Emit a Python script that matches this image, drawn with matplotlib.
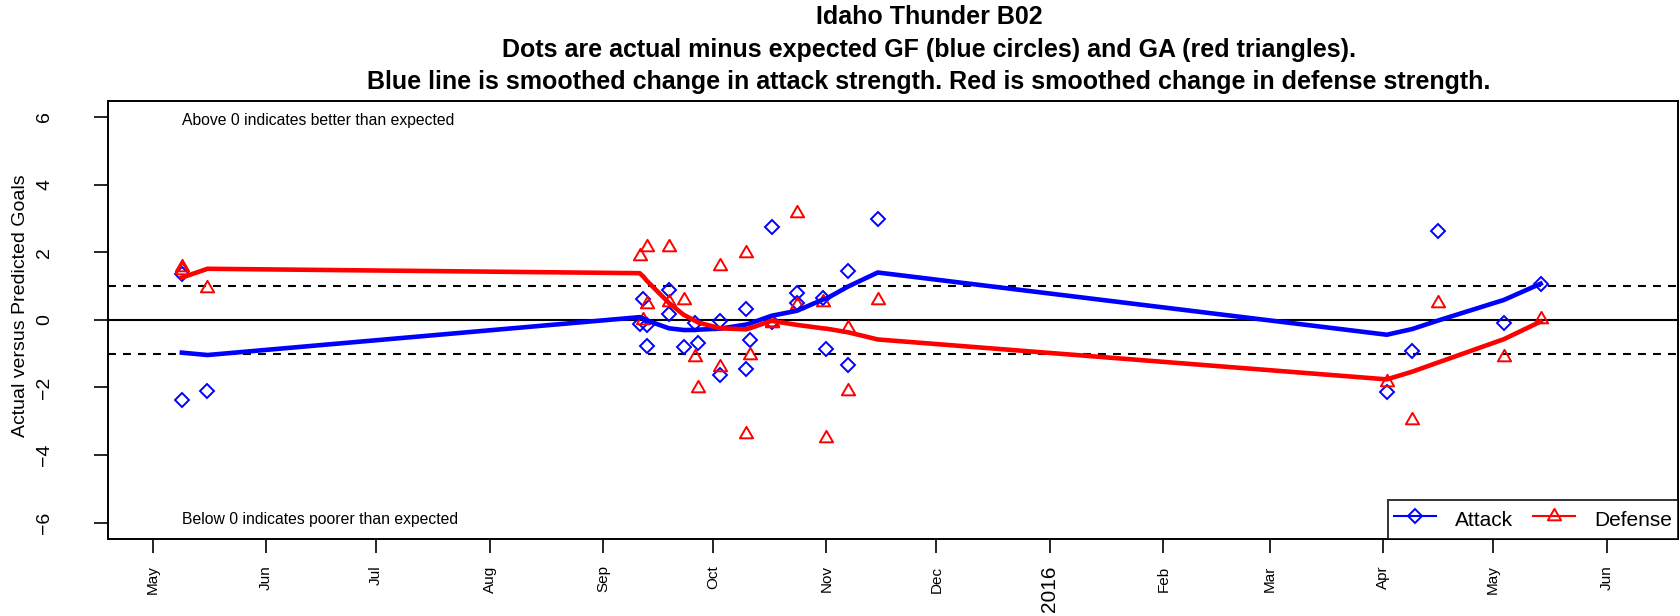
import matplotlib
matplotlib.use("Agg")
import matplotlib.pyplot as plt
import matplotlib.dates as mdates
from matplotlib.path import Path
from matplotlib.lines import Line2D
from datetime import datetime

plt.rcParams['font.family'] = ['Liberation Sans', 'DejaVu Sans']


#DATA

# one entry per game: actual minus expected goals for (blue) and against (red)
game_dates = ["2015-05-09", "2015-05-09", "2015-05-16",
              "2015-09-11", "2015-09-12", "2015-09-13", "2015-09-13",
              "2015-09-19", "2015-09-19", "2015-09-23", "2015-09-26", "2015-09-27",
              "2015-10-03", "2015-10-03", "2015-10-10", "2015-10-10", "2015-10-11",
              "2015-10-17", "2015-10-17", "2015-10-24", "2015-10-24", "2015-10-31",
              "2015-11-01", "2015-11-07", "2015-11-07", "2015-11-15",
              "2016-04-02", "2016-04-09", "2016-04-16", "2016-05-04", "2016-05-14"]
gf_diff = [1.35, -2.37, -2.09,
           -0.12, 0.62, -0.15, -0.77,
           0.89, 0.18, -0.79, -0.08, -0.67,
           -0.03, -1.63, 0.32, -1.45, -0.60,
           2.74, -0.05, 0.79, 0.51, 0.64,
           -0.87, 1.43, -1.33, 2.98,
           -2.12, -0.92, 2.64, -0.08, 1.07]
ga_diff = [1.55, 1.48, 0.93,
           1.89, -0.01, 2.15, 0.48,
           2.15, 0.52, 0.58, -1.10, -2.02,
           1.59, -1.39, 1.98, -3.39, -1.03,
           -0.05, -0.10, 3.17, 0.43, 0.54,
           -3.48, -0.23, -2.10, 0.60,
           -1.85, -2.97, 0.51, -1.11, 0.03]

# smoothed change in strength at each distinct game date
smooth_dates = ["2015-05-09", "2015-05-16", "2015-09-11", "2015-09-12", "2015-09-13",
                "2015-09-19", "2015-09-23", "2015-09-26", "2015-09-27", "2015-10-03",
                "2015-10-10", "2015-10-11", "2015-10-17", "2015-10-24", "2015-10-31",
                "2015-11-01", "2015-11-07", "2015-11-15", "2016-04-02", "2016-04-09",
                "2016-04-16", "2016-05-04", "2016-05-14"]
attack_smooth = [-0.97, -1.04, 0.08, 0.04, -0.02,
                 -0.25, -0.30, -0.30, -0.29, -0.26,
                 -0.14, -0.11, 0.12, 0.27, 0.60,
                 0.63, 0.99, 1.40, -0.44, -0.27,
                 -0.02, 0.59, 1.07]
defense_smooth = [1.25, 1.51, 1.38, 1.28, 1.15,
                  0.50, 0.15, -0.02, -0.08, -0.25,
                  -0.28, -0.25, -0.03, -0.15, -0.25,
                  -0.26, -0.37, -0.58, -1.76, -1.53,
                  -1.26, -0.57, -0.05]

month_ticks = ["2015-05-01", "2015-06-01", "2015-07-01", "2015-08-01", "2015-09-01",
               "2015-10-01", "2015-11-01", "2015-12-01", "2016-01-01", "2016-02-01",
               "2016-03-01", "2016-04-01", "2016-05-01", "2016-06-01"]
month_labels = ["May", "Jun", "Jul", "Aug", "Sep", "Oct", "Nov", "Dec",
                "2016", "Feb", "Mar", "Apr", "May", "Jun"]
y_ticks = [-6, -4, -2, 0, 2, 4, 6]


def to_dates(lst):
    return [datetime.strptime(s, "%Y-%m-%d") for s in lst]


gd = to_dates(game_dates)
sd = to_dates(smooth_dates)

# R style triangle (pch=2), centred on its centroid
tri = Path([(0, 1.5551), (1.3468, -0.7776), (-1.3468, -0.7776), (0, 1.5551)],
           [Path.MOVETO, Path.LINETO, Path.LINETO, Path.CLOSEPOLY])


#DRAW

fig = plt.figure(figsize=(16.8, 6.16), dpi=100)
ax = fig.add_axes([108.3 / 1680, 1 - 539 / 616, (1678 - 108.3) / 1680, (539 - 100.7) / 616])

ax.axhline(0, color='black', lw=1.5, zorder=1)
ax.axhline(1, color='black', lw=1.5, dashes=(3.8, 3.4), zorder=1)
ax.axhline(-1, color='black', lw=1.5, dashes=(3.8, 3.4), zorder=1)

ax.plot(gd, gf_diff, ls='none', marker='D', ms=7.5, mfc='none', mec='blue', mew=1.4, zorder=2)
ax.plot(gd, ga_diff, ls='none', marker=tri, ms=11, mfc='none', mec='red', mew=1.4, zorder=2)
ax.plot(sd, attack_smooth, color='blue', lw=3.3, zorder=3)
ax.plot(sd, defense_smooth, color='red', lw=3.3, zorder=3)

ax.text(gd[0], 5.9, "Above 0 indicates better than expected", fontsize=11.3, ha='left', va='center')
ax.text(gd[0], -5.9, "Below 0 indicates poorer than expected", fontsize=11.3, ha='left', va='center')

ax.set_xlim(datetime(2015, 4, 18, 22), datetime(2016, 6, 20, 12))
ax.set_ylim(-6.48, 6.48)

ax.set_xticks(mdates.date2num(to_dates(month_ticks)))
ax.set_xticklabels(month_labels, rotation=90, fontsize=11, va='top', ha='center')
for lab in ax.get_xticklabels():
    if lab.get_text() == "2016":
        lab.set_fontsize(15)
ax.set_yticks(y_ticks)
ax.set_yticklabels([str(v).replace('-', '\u2212') for v in y_ticks], rotation=90,
                   fontsize=14, va='center')
ax.tick_params(axis='x', direction='out', length=10, width=1.2, pad=9)
ax.tick_params(axis='y', direction='out', length=10, width=1.2, pad=29.5)
for sp in ax.spines.values():
    sp.set_linewidth(1.4)

ax.set_ylabel("Actual versus Predicted Goals", fontsize=14)
ax.yaxis.set_label_coords(-0.0505, 0.5327)

handles = [Line2D([], [], color='blue', lw=1.5, marker='D', ms=7.5, mfc='none', mew=1.4),
           Line2D([], [], color='red', lw=1.5, marker=tri, ms=11, mfc='none', mew=1.4)]
leg = ax.legend(handles, ["Attack", "Defense"], loc='lower right', ncol=2, fontsize=15,
                borderaxespad=0, fancybox=False, handlelength=2, handletextpad=0.9,
                columnspacing=1.0, borderpad=0.3, handleheight=1.6, numpoints=1)
leg.get_frame().set_edgecolor('black')
leg.get_frame().set_linewidth(1.4)

title_lines = ["Idaho Thunder B02",
               "Dots are actual minus expected GF (blue circles) and GA (red triangles).",
               "Blue line is smoothed change in attack strength. Red is smoothed change in defense strength."]
for ty, line in zip([17, 50, 81.5], title_lines):
    fig.text(0.553, 1 - ty / 616, line, fontsize=18, fontweight='bold', ha='center', va='center')

fig.savefig("out.png", dpi=100)
